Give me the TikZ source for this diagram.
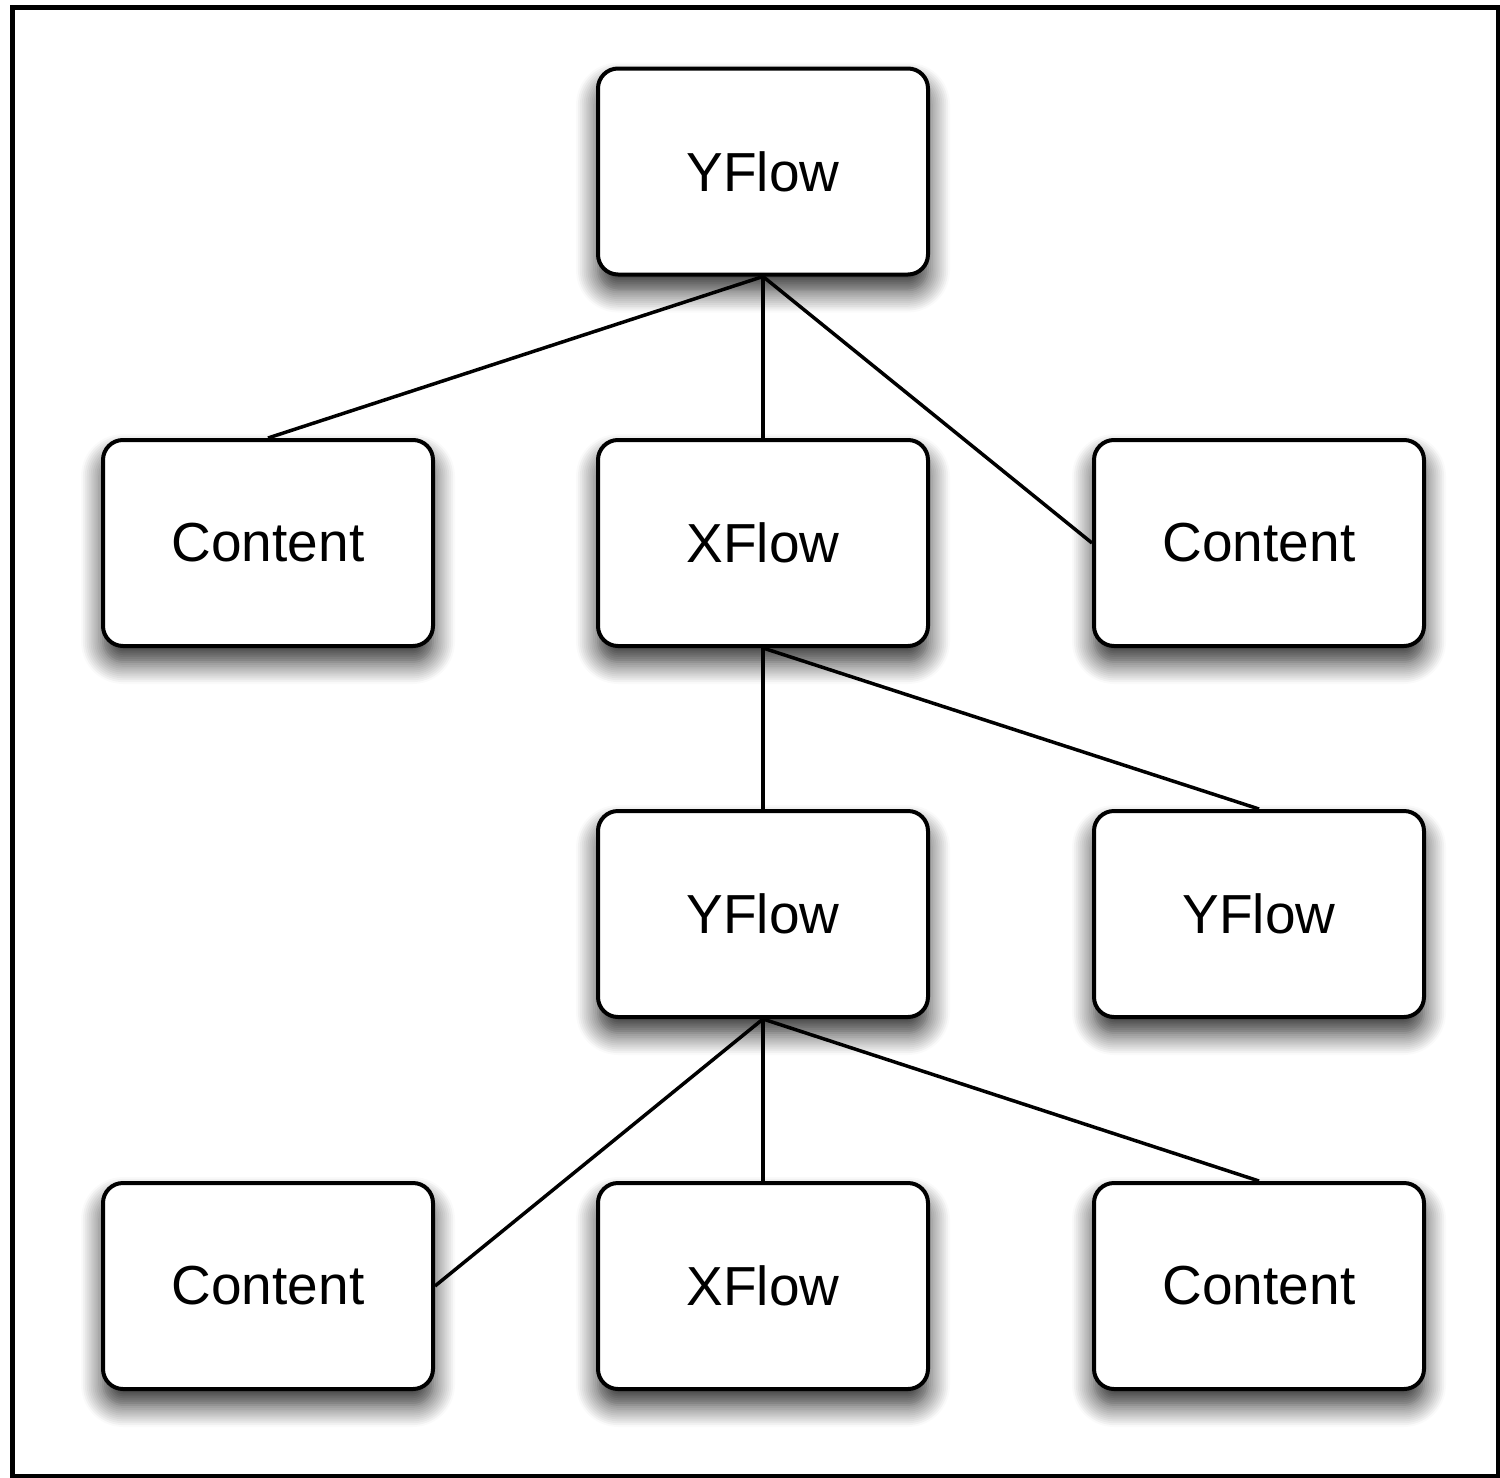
\documentclass[tikz,border=0pt]{standalone}
\usepackage{fontspec}
\setmainfont{Liberation Sans}
\usetikzlibrary{shadows.blur}
\begin{document}
\begin{tikzpicture}[x=1pt,y=-1pt,
  box/.style={draw=black, fill=white, line width=4pt, rounded corners=20pt,
    minimum width=330pt, minimum height=206pt, inner sep=0pt,
    font=\fontsize{55}{66}\selectfont,
    blur shadow={shadow xshift=0pt, shadow yshift=-16pt, shadow blur radius=22pt, shadow opacity=85, shadow blur steps=12}},
  link/.style={line width=3.5pt, black}]
\useasboundingbox (0,0) rectangle (1500,1478);
\draw[line width=5pt] (12.5,7.5) rectangle (1498,1476);
\node[box] (y1) at (763,171.5) {YFlow};
\node[box] (c1) at (268,543) {Content};
\node[box] (x1) at (763,543) {XFlow};
\node[box] (c2) at (1259,543) {Content};
\node[box] (y2) at (763,914) {YFlow};
\node[box] (y3) at (1259,914) {YFlow};
\node[box] (c3) at (268,1286) {Content};
\node[box] (x2) at (763,1286) {XFlow};
\node[box] (c4) at (1259,1286) {Content};
\draw[link] (y1.south) -- (c1.north);
\draw[link] (y1.south) -- (x1.north);
\draw[link] (y1.south) -- (c2.west);
\draw[link] (x1.south) -- (y2.north);
\draw[link] (x1.south) -- (y3.north);
\draw[link] (y2.south) -- (c3.east);
\draw[link] (y2.south) -- (x2.north);
\draw[link] (y2.south) -- (c4.north);
\end{tikzpicture}
\end{document}
